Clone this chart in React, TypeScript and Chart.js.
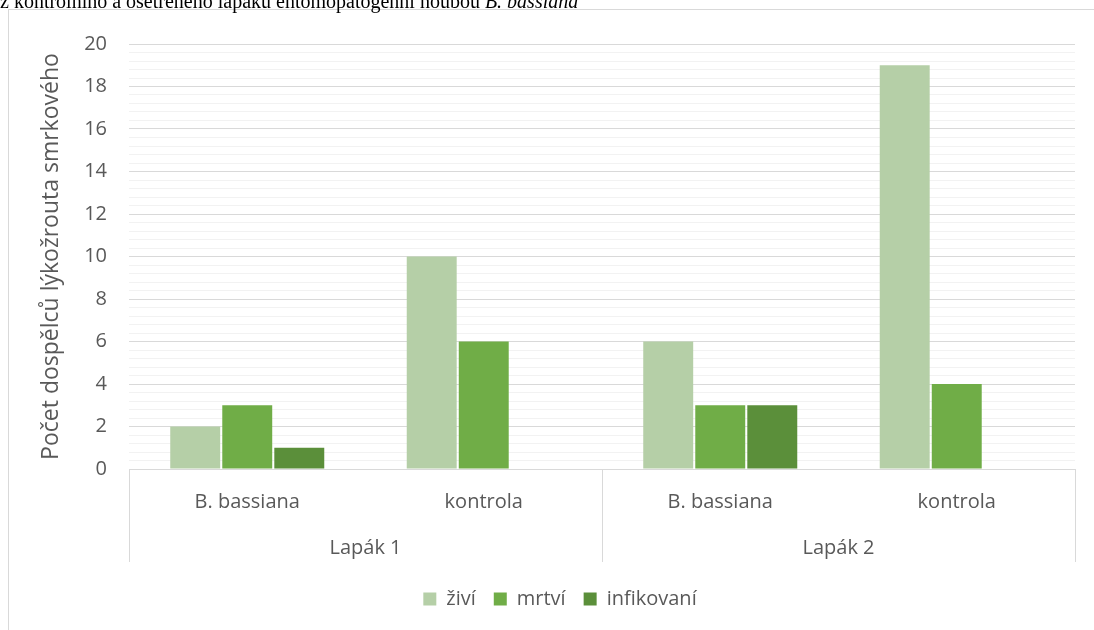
import { useEffect, useRef } from "react";
import { Chart, registerables } from "chart.js";

Chart.register(...registerables);

// ---- data ----
const subCategories = ["B. bassiana", "kontrola", "B. bassiana", "kontrola"];
const groupLabels = ["Lapák 1", "Lapák 2"];
const groupSizes = [2, 2];
const seriesNames = ["živí", "mrtví", "infikovaní"];
const ziviValues = [2, 10, 6, 19];
const mrtviValues = [3, 6, 3, 4];
const infikovaniValues = [1, 0, 3, 0];
const yMin = 0;
const yMax = 20;
const yMajorStep = 2;
const yMinorStep = 0.4;
const yTitle = "Počet dospělců lýkožrouta smrkového";
const captionText = "z kontrolního a ošetřeného lapáku entomopatogenní houbou ";
const captionItalic = "B. bassiana";

// ---- styles ----
const FONT = '"Open Sans", "Noto Sans", sans-serif';
const TEXT = "#595959";
const MAJOR = "#d9d9d9";
const MINOR = "#f2f2f2";
const seriesColors = ["#b5cfa7", "#70ad47", "#5b8f3a"];

const isMajor = (v: number) => Math.abs(v / yMajorStep - Math.round(v / yMajorStep)) < 1e-6;

const groupAxisPlugin = {
  id: "groupAxis",
  afterDraw(chart: any) {
    const x = chart.scales.x;
    const area = chart.chartArea;
    const ctx = chart.ctx;
    const top = area.bottom;
    const bottom = top + 93;
    ctx.save();
    ctx.strokeStyle = MAJOR;
    ctx.lineWidth = 1;
    const bounds: number[] = [area.left];
    let idx = 0;
    groupSizes.forEach((n) => {
      const end = idx + n - 1;
      idx += n;
      const right =
        end < subCategories.length - 1
          ? (x.getPixelForValue(end) + x.getPixelForValue(end + 1)) / 2
          : area.right;
      bounds.push(right);
    });
    bounds.forEach((b) => {
      const px = Math.round(b) + 0.5;
      ctx.beginPath();
      ctx.moveTo(px, top);
      ctx.lineTo(px, bottom);
      ctx.stroke();
    });
    ctx.fillStyle = TEXT;
    ctx.font = `20px ${FONT}`;
    ctx.textAlign = "center";
    ctx.textBaseline = "alphabetic";
    groupLabels.forEach((g, gi) => {
      const cx = (bounds[gi] + bounds[gi + 1]) / 2;
      ctx.fillText(g, cx, top + 85);
    });
    ctx.restore();
  },
};

export default function App() {
  const ref = useRef<HTMLCanvasElement>(null);

  useEffect(() => {
    if (!ref.current) return;
    const legendPadding = 18;
    const chart = new Chart(ref.current, {
      type: "bar",
      data: {
        labels: subCategories,
        datasets: [
          { label: seriesNames[0], data: ziviValues, backgroundColor: seriesColors[0] },
          { label: seriesNames[1], data: mrtviValues, backgroundColor: seriesColors[1] },
          { label: seriesNames[2], data: infikovaniValues, backgroundColor: seriesColors[2] },
        ],
      },
      options: {
        responsive: false,
        animation: false,
        layout: { padding: { left: 0, right: 0, top: 28, bottom: 11 } },
        datasets: {
          bar: { categoryPercentage: 0.66, barPercentage: 0.96, borderWidth: 0 },
        },
        plugins: {
          legend: {
            position: "bottom",
            labels: {
              font: { family: FONT, size: 20 },
              color: TEXT,
              boxWidth: 13,
              boxHeight: 13,
              padding: legendPadding,
            },
          },
          tooltip: { enabled: false },
        },
        scales: {
          x: {
            grid: { display: false, drawTicks: false },
            border: { display: true, color: MAJOR, width: 1 },
            ticks: {
              font: { family: FONT, size: 20 },
              color: TEXT,
              padding: 21,
              maxRotation: 0,
              autoSkip: false,
            },
            afterFit: (s: any) => {
              s.height = 120 - legendPadding;
            },
          },
          y: {
            min: yMin,
            max: yMax,
            border: { display: false },
            grid: {
              drawTicks: false,
              color: (c: any) => (isMajor(c.tick.value) ? MAJOR : MINOR),
              lineWidth: 1,
            },
            ticks: {
              stepSize: yMinorStep,
              autoSkip: false,
              font: { family: FONT, size: 20 },
              color: TEXT,
              padding: 22,
              callback: (v: any) => (isMajor(Number(v)) ? String(Math.round(Number(v))) : ""),
            },
            title: {
              display: true,
              text: yTitle,
              font: { family: FONT, size: 23 },
              color: TEXT,
              padding: 29,
            },
            afterFit: (s: any) => {
              s.width = 120;
            },
          },
          yR: {
            type: "linear",
            position: "right",
            display: true,
            grid: { display: false, drawTicks: false },
            border: { display: false },
            ticks: { display: false },
            afterFit: (s: any) => {
              s.width = 36;
            },
          },
        },
      },
      plugins: [groupAxisPlugin],
    } as any);
    return () => chart.destroy();
  }, []);

  return (
    <div
      style={{
        position: "fixed",
        left: 0,
        top: 0,
        width: 1094,
        height: 630,
        overflow: "hidden",
        background: "#ffffff",
      }}
    >
      <div
        style={{
          position: "absolute",
          left: 8,
          top: 9,
          width: 1104,
          height: 640,
          border: `1px solid ${MAJOR}`,
          boxSizing: "border-box",
        }}
      >
        <canvas ref={ref} width={1102} height={620} style={{ display: "block" }} />
      </div>
      <div
        style={{
          position: "absolute",
          left: 0,
          top: -9,
          whiteSpace: "nowrap",
          fontFamily: '"Liberation Serif", serif',
          fontSize: 20,
          lineHeight: "20px",
          color: "#000",
        }}
      >
        {captionText}
        <i>{captionItalic}</i>
      </div>
    </div>
  );
}
